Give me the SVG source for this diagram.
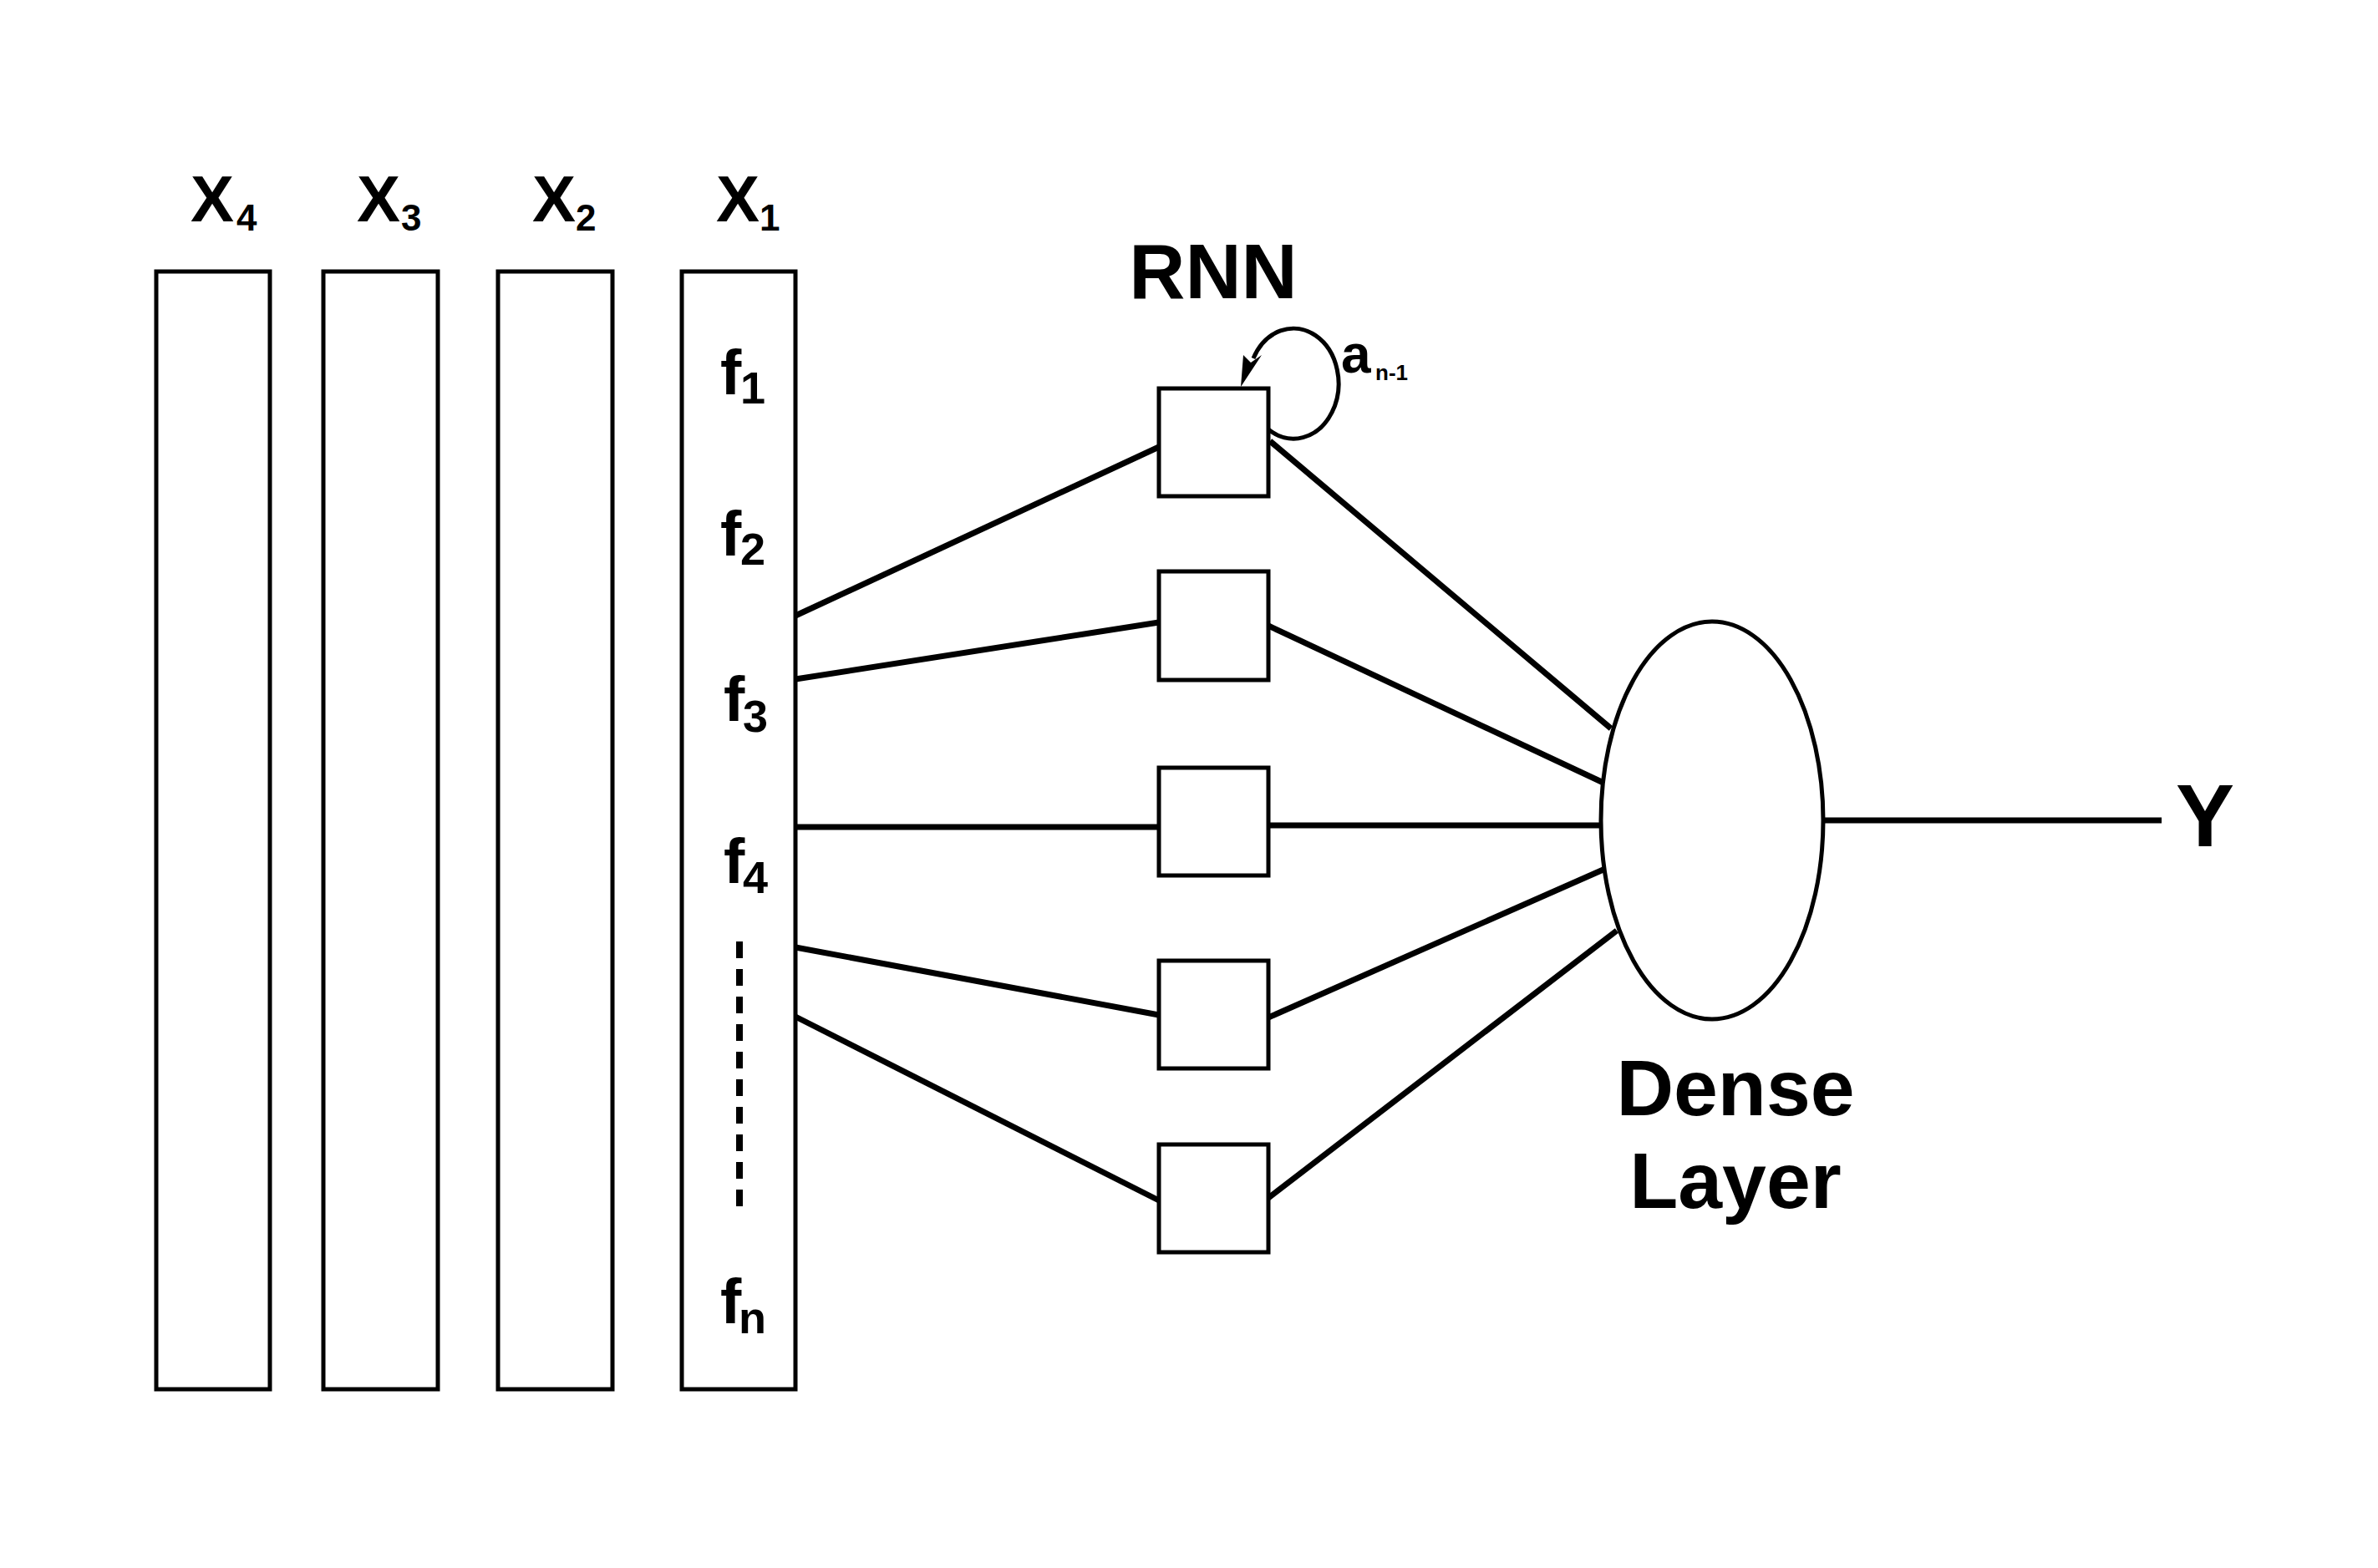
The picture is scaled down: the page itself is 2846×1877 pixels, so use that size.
<svg xmlns="http://www.w3.org/2000/svg" width="2846" height="1877" viewBox="0 0 2846 1877">
<style>
.box{fill:#fff;stroke:#000;stroke-width:5}
.ln{stroke:#000;stroke-width:7;fill:none}
.t{font-family:"Liberation Sans",Arial,sans-serif;font-weight:bold;fill:#000}
</style>
<rect width="2846" height="1877" fill="#fff"/>
<g id="x4"><rect class="box" x="187" y="325" width="136" height="1338"/><text class="t" x="228" y="265" font-size="78">X</text><text class="t" x="283" y="276" font-size="44">4</text></g>
<g id="x3"><rect class="box" x="387" y="325" width="137" height="1338"/><text class="t" x="427" y="265" font-size="78">X</text><text class="t" x="480" y="276" font-size="44">3</text></g>
<g id="x2"><rect class="box" x="596" y="325" width="137" height="1338"/><text class="t" x="637" y="265" font-size="78">X</text><text class="t" x="689" y="276" font-size="44">2</text></g>
<g id="x1"><rect class="box" x="816" y="325" width="136" height="1338"/><text class="t" x="857" y="265" font-size="78">X</text><text class="t" x="909" y="276" font-size="44">1</text>
<text class="t" x="862" y="472" font-size="76">f</text><text class="t" x="886" y="483" font-size="54">1</text>
<text class="t" x="862" y="665" font-size="76">f</text><text class="t" x="886" y="676" font-size="54">2</text>
<text class="t" x="866" y="863" font-size="76">f</text><text class="t" x="889" y="876" font-size="54">3</text>
<text class="t" x="866" y="1057" font-size="76">f</text><text class="t" x="889" y="1069" font-size="54">4</text>
<line x1="885" y1="1127" x2="885" y2="1447" stroke="#000" stroke-width="8" stroke-dasharray="20 13"/>
<text class="t" x="862" y="1584" font-size="76">f</text><text class="t" x="884" y="1596" font-size="54">n</text>
</g>
<g id="rnn-label"><text class="t" x="1452" y="357" font-size="93" text-anchor="middle">RNN</text></g>
<g id="rnn1"><rect class="box" x="1387" y="465" width="131" height="129"/>
<path class="ln" style="stroke-width:5" d="M1518,514 A54,66 0 1,0 1500,429"/>
<polygon points="1485,463 1488,425 1497,434 1510,425" fill="#000"/>
<text class="t" x="1605" y="446" font-size="64">a</text><text class="t" x="1646" y="455" font-size="26">n-1</text></g>
<g id="rnn2"><rect class="box" x="1387" y="684" width="131" height="130"/></g>
<g id="rnn3"><rect class="box" x="1387" y="919" width="131" height="129"/></g>
<g id="rnn4"><rect class="box" x="1387" y="1150" width="131" height="129"/></g>
<g id="rnn5"><rect class="box" x="1387" y="1370" width="131" height="129"/></g>
<g id="dense"><ellipse cx="2049" cy="982" rx="133" ry="238" fill="#fff" stroke="#000" stroke-width="5"/>
<text class="t" x="2077" y="1335" font-size="95" text-anchor="middle">Dense</text>
<text class="t" x="2077" y="1446" font-size="95" text-anchor="middle">Layer</text></g>
<g id="output"><text class="t" x="2604" y="1013" font-size="105">Y</text></g>
<g id="connectors">
<line class="ln" x1="952" y1="737" x2="1387" y2="535"/>
<line class="ln" x1="952" y1="813" x2="1387" y2="745"/>
<line class="ln" x1="952" y1="990" x2="1387" y2="990"/>
<line class="ln" x1="952" y1="1134" x2="1387" y2="1215"/>
<line class="ln" x1="952" y1="1217" x2="1387" y2="1437"/>
<line class="ln" x1="1520" y1="528" x2="1928" y2="872"/>
<line class="ln" x1="1518" y1="749" x2="1919" y2="937"/>
<line class="ln" x1="1518" y1="988" x2="1916" y2="988"/>
<line class="ln" x1="1518" y1="1218" x2="1921" y2="1040"/>
<line class="ln" x1="1518" y1="1434" x2="1935" y2="1114"/>
<line class="ln" x1="2182" y1="982" x2="2587" y2="982"/>
</g>
</svg>
